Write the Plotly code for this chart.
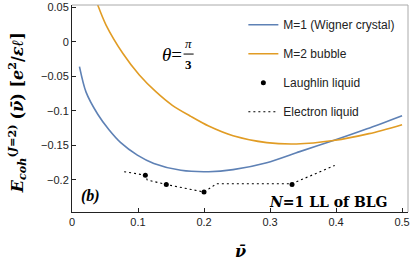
import plotly.graph_objects as go

# M=1 (Wigner crystal)
nu_m1 = [0.0113, 0.0213, 0.039, 0.0557, 0.0738, 0.099, 0.124, 0.165, 0.207, 0.244, 0.295, 0.345, 0.396, 0.447, 0.5]
E_m1 = [-0.036, -0.073, -0.105, -0.127, -0.146, -0.164, -0.176, -0.186, -0.188, -0.185, -0.175, -0.159, -0.143, -0.126, -0.107]

# M=2 bubble
nu_m2 = [0.039, 0.0516, 0.0769, 0.102, 0.127, 0.152, 0.18, 0.207, 0.244, 0.295, 0.34, 0.396, 0.45, 0.5]
E_m2 = [0.053, 0.024, -0.0168, -0.0482, -0.0723, -0.092, -0.108, -0.122, -0.136, -0.146, -0.148, -0.143, -0.133, -0.120]

# Laughlin liquid
nu_l = [1/9, 1/7, 1/5, 1/3]
E_l = [-0.193, -0.2065, -0.2175, -0.2065]

# Electron liquid
nu_e = [0.079, 0.111, 0.114, 0.143, 0.2, 0.219, 0.333, 0.398]
E_e = [-0.188, -0.193, -0.200, -0.2065, -0.2175, -0.2055, -0.2055, -0.179]

xticks = [0, 0.1, 0.2, 0.3, 0.4, 0.5]
xticktext = ["0", "0.1", "0.2", "0.3", "0.4", "0.5"]
yticks = [0.05, 0, -0.05, -0.1, -0.15, -0.2]
yticktext = ["0.05", "0", "\u22120.05", "\u22120.1", "\u22120.15", "\u22120.2"]

blue = "#5E81B5"
orange = "#E19C24"
serif = "Liberation Serif, DejaVu Serif, serif"
dserif = "DejaVu Serif, serif"
sans = "Liberation Sans, Arial, sans-serif"

fig = go.Figure()
fig.add_trace(go.Scatter(x=nu_m1, y=E_m1, mode="lines", line=dict(color=blue, width=1.6, shape="spline", smoothing=0.8),
                         name="M=1 (Wigner crystal)", legendgroup="a"))
fig.add_trace(go.Scatter(x=nu_m2, y=E_m2, mode="lines", line=dict(color=orange, width=1.6, shape="spline", smoothing=0.8),
                         name="M=2 bubble", legendgroup="b"))
fig.add_trace(go.Scatter(x=nu_l, y=E_l, mode="markers", marker=dict(color="black", size=5),
                         name="Laughlin liquid", legendgroup="c"))
fig.add_trace(go.Scatter(x=nu_e, y=E_e, mode="lines", line=dict(color="black", width=1.1, dash="2px,3px"),
                         name="Electron liquid", legendgroup="d"))

fig.update_layout(
    width=411, height=267,
    margin=dict(l=72, r=3, t=5, b=55, autoexpand=False),
    paper_bgcolor="white", plot_bgcolor="white",
    showlegend=True,
    legend=dict(x=0.51, y=0.975, xanchor="left", yanchor="top", bgcolor="rgba(0,0,0,0)",
                font=dict(family=sans, size=12, color="#222"), tracegroupgap=10, itemwidth=30),
    xaxis=dict(range=[0, 0.509], tickvals=xticks, ticktext=xticktext, ticks="inside", ticklen=4,
               tickcolor="#222", showline=True, linecolor="#222", linewidth=1, mirror=False, automargin=False,
               showgrid=False, zeroline=False, tickfont=dict(family=sans, size=11, color="#222")),
    yaxis=dict(range=[-0.2463, 0.053], tickvals=yticks, ticktext=yticktext, ticks="inside", ticklen=4,
               tickcolor="#222", showline=True, linecolor="#222", linewidth=1, mirror=False, automargin=False,
               showgrid=False, zeroline=False, tickfont=dict(family=sans, size=11, color="#222")),
    shapes=[
        dict(type="line", xref="paper", yref="paper", x0=0, x1=1, y0=1, y1=1, line=dict(color="#aaa", width=1)),
        dict(type="line", xref="paper", yref="paper", x0=1, x1=1, y0=0, y1=1, line=dict(color="#aaa", width=1)),
        dict(type="line", xref="paper", yref="paper", x0=0.332, x1=0.362, y0=0.763, y1=0.763, line=dict(color="black", width=1)),
    ],
    annotations=[
        dict(text="<i>θ</i>=", xref="paper", yref="paper", x=0.332, y=0.761, xanchor="right", yanchor="middle",
             showarrow=False, font=dict(family=serif, size=19, color="black")),
        dict(text="<i>π</i>", xref="paper", yref="paper", x=0.347, y=0.769, xanchor="center", yanchor="bottom",
             showarrow=False, font=dict(family=serif, size=13, color="black")),
        dict(text="<b>3</b>", xref="paper", yref="paper", x=0.347, y=0.758, xanchor="center", yanchor="top",
             showarrow=False, font=dict(family=serif, size=13, color="black")),
        dict(text="<b><i>(b)</i></b>", xref="paper", yref="paper", x=0.02, y=0.075, xanchor="left", yanchor="middle",
             showarrow=False, font=dict(family=serif, size=16, color="black")),
        dict(text="<b><i>N</i>=1 LL of BLG</b>", xref="paper", yref="paper", x=0.947, y=0.05, xanchor="right", yanchor="middle",
             showarrow=False, font=dict(family=dserif, size=14, color="black")),
        dict(text="<b><i>ν̄</i></b>", xref="paper", yref="paper", x=0.5, y=-0.19, xanchor="center", yanchor="middle",
             showarrow=False, font=dict(family=dserif, size=16, color="black")),
        dict(text="<b><i>E</i></b><sub><b><i>coh</i></b></sub><sup><b>(<i>J</i>=2)</b></sup> <b>(<i>ν̄</i>) [<i>e</i><sup>2</sup>/<i>εℓ</i>]</b>",
             xref="paper", yref="paper", x=-0.165, y=0.48, xanchor="center", yanchor="middle", textangle=-90,
             showarrow=False, font=dict(family=dserif, size=16, color="black")),
    ],
)

fig.write_html("out.html", config={"displayModeBar": False}, post_script="document.body.style.margin='0';")
